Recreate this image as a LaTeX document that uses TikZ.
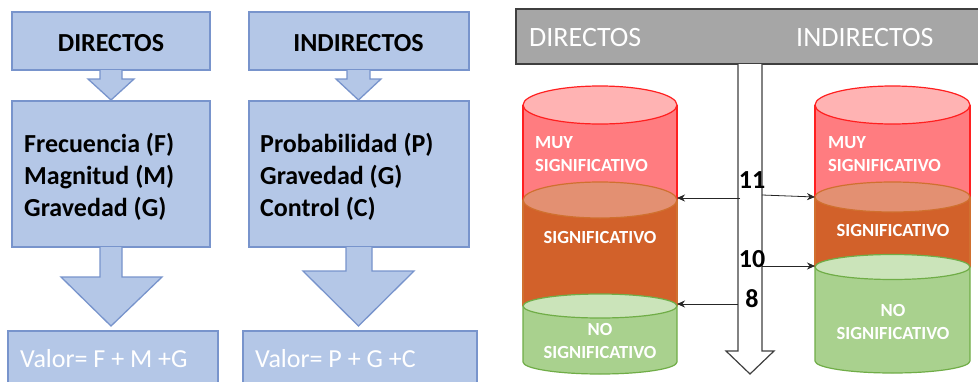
\documentclass[tikz,border=0pt]{standalone}
\usepackage{fontspec}
\setmainfont{Carlito}
\usetikzlibrary{arrows.meta}
\definecolor{bfill}{HTML}{B4C7E7}
\definecolor{bdraw}{HTML}{7894CC}
\definecolor{barfill}{HTML}{A6A6A6}
\definecolor{bardraw}{HTML}{3F3F3F}
\definecolor{redbody}{HTML}{FF7C80}
\definecolor{redtop}{HTML}{FFB3B3}
\definecolor{redline}{HTML}{FF2020}
\definecolor{orbody}{HTML}{D2612A}
\definecolor{ortop}{HTML}{E39072}
\definecolor{orline}{HTML}{D0702F}
\definecolor{grbody}{HTML}{A9D18E}
\definecolor{grtop}{HTML}{CBE4BA}
\definecolor{grline}{HTML}{70AD47}
\tikzset{
  bluebox/.style={fill=bfill,draw=bdraw,line width=1.3pt},
  boldtxt/.style={font=\fontsize{26}{32}\selectfont\bfseries,text=black,inner sep=0pt},
  valtxt/.style={font=\fontsize{26}{32}\selectfont,text=white,inner sep=0pt},
  bartxt/.style={font=\fontsize{28}{32}\selectfont,text=white,inner sep=0pt},
  cyltxt/.style={font=\fontsize{18.5}{22}\selectfont\bfseries,text=white,inner sep=0pt},
  numtxt/.style={font=\fontsize{26}{30}\selectfont\bfseries,text=black,inner sep=0pt},
  link/.style={draw=black!85,line width=0.8pt,-{Stealth[length=8pt,width=7pt]}},
}
% cylinder segment: #1 cx, #2 rx, #3 ytop, #4 rytop, #5 ybot, #6 body, #7 top, #8 line
\newcommand{\cylseg}[8]{%
  \fill[#6] (#1-#2,#3) -- (#1-#2,#5) -- (#1+#2,#5) -- (#1+#2,#3) -- cycle;
  \draw[#8,line width=1.2pt] (#1-#2,#3) -- (#1-#2,#5) (#1+#2,#3) -- (#1+#2,#5);
  \filldraw[fill=#7,draw=#8,line width=1.2pt] (#1,#3) ellipse [x radius=#2, y radius=#4];
}
\newcommand{\cylbottom}[6]{%
  \filldraw[fill=#5,draw=#6,line width=1.2pt] (#1-#2,#3) -- (#1-#2,#4) arc[start angle=180,end angle=0,x radius=#2,y radius=12] -- (#1+#2,#3);
}
\begin{document}
\begin{tikzpicture}[x=1pt,y=-1pt]
\useasboundingbox (0,0) rectangle (978,381);
\fill[white] (0,0) rectangle (978,381);

% ---------- left flow: DIRECTOS ----------
\draw[bluebox] (12,12) rectangle (210,70);
\node[boldtxt,anchor=base] (d1) at (111,51) {DIRECTOS};
\draw[bluebox] (12,101) rectangle (210,247);
\node[boldtxt,anchor=base west] (d2) at (24,152) {Frecuencia (F)};
\node[boldtxt,anchor=base west] (d3) at (24,184) {Magnitud (M)};
\node[boldtxt,anchor=base west] (d4) at (24,216) {Gravedad (G)};
\draw[bluebox] (8,331) rectangle (218,395);
\node[valtxt,anchor=base west] (d5) at (20,367) {Valor= F + M +G};
\filldraw[bluebox] (100,70) -- (100,79) -- (88,79) -- (111,100) -- (134,79) -- (122,79) -- (122,70);
\filldraw[bluebox] (100,247) -- (100,277) -- (61,277) -- (111,326) -- (162,277) -- (122,277) -- (122,247);

% ---------- left flow: INDIRECTOS ----------
\draw[bluebox] (249,12) rectangle (469,70);
\node[boldtxt,anchor=base] (i1) at (358.5,51) {INDIRECTOS};
\draw[bluebox] (249,101) rectangle (469,247);
\node[boldtxt,anchor=base west] (i2) at (260,152) {Probabilidad (P)};
\node[boldtxt,anchor=base west] (i3) at (260,184) {Gravedad (G)};
\node[boldtxt,anchor=base west] (i4) at (260,216) {Control (C)};
\draw[bluebox] (243,331) rectangle (477,395);
\node[valtxt,anchor=base west] (i5) at (255,367) {Valor= P + G +C};
\filldraw[bluebox] (347,70) -- (347,79) -- (336,79) -- (358.5,100) -- (381,79) -- (370,79) -- (370,70);
\filldraw[bluebox] (346,247) -- (346,271) -- (303,271) -- (358.5,326) -- (414,271) -- (372,271) -- (372,247);

% ---------- right: bar ----------
\draw[fill=barfill,draw=bardraw,line width=1.5pt] (516,9) rectangle (990,64);
\node[bartxt,anchor=base west] (b1) at (529,46.5) {DIRECTOS};
\node[bartxt,anchor=base west] (b2) at (796,46.5) {INDIRECTOS};

% down arrow
\filldraw[fill=white,draw=bardraw,line width=1.2pt] (738,64) -- (738,351) -- (726,351) -- (750,374) -- (774,351) -- (762,351) -- (762,64);

% ---------- left cylinder ----------
\cylseg{600}{77}{105}{19}{200}{redbody}{redtop}{redline}
\cylseg{600}{77}{200}{18}{306}{orbody}{ortop}{orline}
\cylbottom{600}{77}{306}{362}{grbody}{grline}
\filldraw[fill=grtop,draw=grline,line width=1.2pt] (600,306) ellipse [x radius=77, y radius=12];
\node[cyltxt,anchor=base west] (l1) at (535,148) {MUY};
\node[cyltxt,anchor=base west] (l2) at (535,171) {SIGNIFICATIVO};
\node[cyltxt,anchor=base] (l3) at (600,243) {SIGNIFICATIVO};
\node[cyltxt,anchor=base] (l4) at (600,335) {NO};
\node[cyltxt,anchor=base] (l5) at (600,358) {SIGNIFICATIVO};

% ---------- right cylinder ----------
\cylseg{892.5}{77.5}{105}{19}{197}{redbody}{redtop}{redline}
\cylseg{892.5}{77.5}{197}{15}{267}{orbody}{ortop}{orline}
\cylbottom{892.5}{77.5}{267}{361}{grbody}{grline}
\filldraw[fill=grtop,draw=grline,line width=1.2pt] (892.5,267) ellipse [x radius=77.5, y radius=12.5];
\node[cyltxt,anchor=base west] (r1) at (828,148) {MUY};
\node[cyltxt,anchor=base west] (r2) at (828,171) {SIGNIFICATIVO};
\node[cyltxt,anchor=base] (r3) at (893,236) {SIGNIFICATIVO};
\node[cyltxt,anchor=base] (r4) at (893,316) {NO};
\node[cyltxt,anchor=base] (r5) at (893,339) {SIGNIFICATIVO};

% ---------- links ----------
\coordinate (s11) at (740,198);
\coordinate (t11) at (677,198);
\coordinate (u11) at (762,195);
\coordinate (v11) at (815,197);
\coordinate (u10) at (762,266);
\coordinate (v10) at (815,266);
\coordinate (s8) at (738,304);
\coordinate (t8) at (677,304);
\draw[link] (s11) -- (t11);
\draw[link] (u11) -- (v11);
\draw[link] (u10) -- (v10);
\draw[link] (s8) -- (t8);
\node[numtxt,anchor=base] (n11) at (752,188) {11};
\node[numtxt,anchor=base] (n10) at (752,267) {10};
\node[numtxt,anchor=base] (n8) at (752,307) {8};
\end{tikzpicture}
\end{document}
